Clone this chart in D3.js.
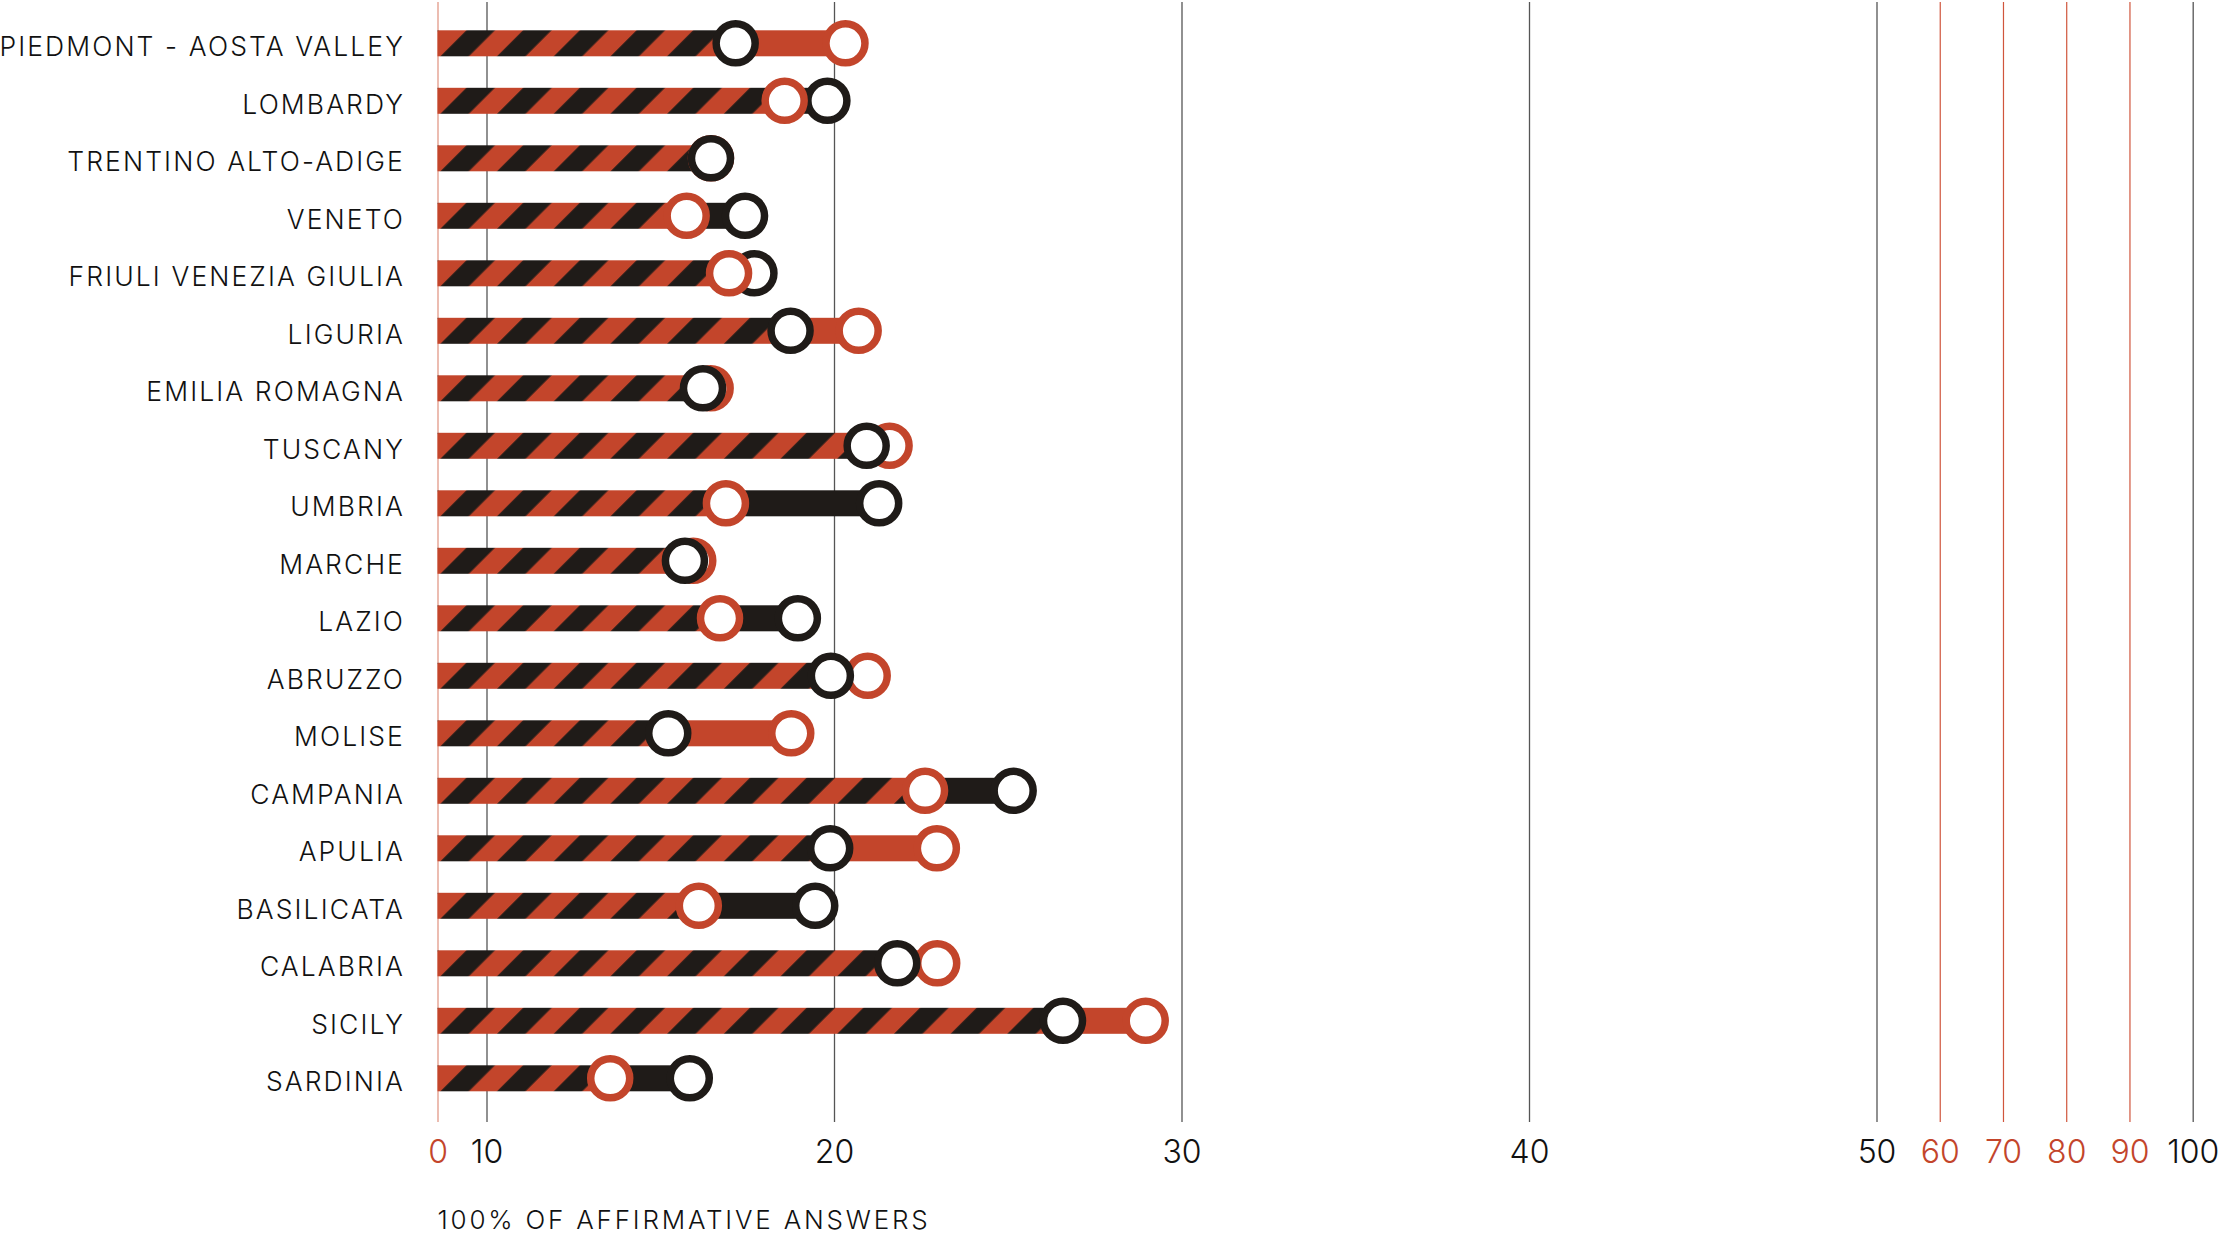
<!DOCTYPE html>
<html>
<head>
<meta charset="utf-8">
<script src="https://cdn.jsdelivr.net/npm/d3@7"></script>
<style>
  html, body { margin: 0; padding: 0; background: #ffffff; }
  svg { display: block; }
  text { font-family: Inter, "Noto Sans", sans-serif; font-weight: 300; }
</style>
</head>
<body>
<svg id="chart" width="2219" height="1236"></svg>
<script>
// ---- data ----
const regions = [
  "PIEDMONT - AOSTA VALLEY", "LOMBARDY", "TRENTINO ALTO-ADIGE", "VENETO",
  "FRIULI VENEZIA GIULIA", "LIGURIA", "EMILIA ROMAGNA", "TUSCANY", "UMBRIA",
  "MARCHE", "LAZIO", "ABRUZZO", "MOLISE", "CAMPANIA", "APULIA", "BASILICATA",
  "CALABRIA", "SICILY", "SARDINIA"
];
const redValues = [20.33, 18.58, 16.46, 15.76, 16.98, 20.71, 16.45, 21.60, 16.89,
  15.95, 16.72, 20.97, 18.77, 22.62, 22.96, 16.11, 22.97, 28.97, 13.56];
const blackValues = [17.17, 19.81, 16.46, 17.44, 17.71, 18.75, 16.23, 20.94, 21.30,
  15.71, 18.96, 19.91, 15.23, 25.17, 19.89, 19.46, 21.82, 26.59, 15.85];
const tickValues = [0, 10, 20, 30, 40, 50, 60, 70, 80, 90, 100];
const tickLabels = ["0", "10", "20", "30", "40", "50", "60", "70", "80", "90", "100"];
const axisTitle = "100% OF AFFIRMATIVE ANSWERS";

// ---- styles ----
const RED = "#c3452b";
const BLACK = "#1f1b18";

const svg = d3.select("#chart");
const defs = svg.append("defs");

// piecewise (broken) x scale
const x = d3.scaleLinear()
  .domain([0, 10, 50, 100])
  .range([437.5, 486.5, 1876.5, 2192.7]);

const y = d3.scalePoint()
  .domain(regions)
  .range([43.3, 43.3 + 57.5 * (regions.length - 1)]);

const barH = 26;
const circleR = 19.5;
const circleW = 7.5;
const gridTop = 2;
const gridBottom = 1122;

const isRedTick = v => v === 0 || (v > 50 && v < 100);

// ---- gridlines + tick labels via axis ----
const axis = d3.axisBottom(x)
  .tickValues(tickValues)
  .tickFormat((d, i) => tickLabels[i])
  .tickSize(-(gridBottom - gridTop));

const ax = svg.append("g")
  .attr("transform", `translate(0,${gridBottom})`)
  .call(axis);
ax.select(".domain").remove();
ax.selectAll(".tick line")
  .attr("stroke", d => d === 0 ? "#e0907d" : (isRedTick(d) ? "#d0553c" : "#555"))
  .attr("stroke-width", d => isRedTick(d) ? 1.2 : 1.3);
ax.selectAll(".tick text")
  .attr("y", 41)
  .attr("dy", 0)
  .attr("font-size", 32)
  .attr("font-family", "Inter, sans-serif")
  .attr("font-weight", 300)
  .attr("fill", d => isRedTick(d) ? RED : "#111");

// ---- data rows ----
const rows = regions.map((r, i) => ({
  region: r, i,
  red: redValues[i], black: blackValues[i],
  lo: Math.min(redValues[i], blackValues[i]),
  hi: Math.max(redValues[i], blackValues[i]),
  hiColor: redValues[i] > blackValues[i] ? RED : BLACK
}));

// per-row diagonal stripe patterns anchored at each bar's start
const P = 56.7;               // horizontal stripe period
const w = P / Math.SQRT2;     // perpendicular period
rows.forEach(d => {
  const cy = y(d.region);
  const pat = defs.append("pattern")
    .attr("id", "stripe" + d.i)
    .attr("patternUnits", "userSpaceOnUse")
    .attr("width", w)
    .attr("height", 20)
    .attr("patternTransform", `translate(${x(0)},${cy + barH / 2}) rotate(45)`);
  pat.append("rect").attr("width", w).attr("height", 20).attr("fill", RED);
  pat.append("rect").attr("x", 2.1).attr("width", w / 2).attr("height", 20).attr("fill", BLACK);
});

const gRows = svg.append("g");

// solid segment between the two values
gRows.selectAll("rect.solid")
  .data(rows)
  .join("rect")
  .attr("class", "solid")
  .attr("x", d => x(d.lo))
  .attr("y", d => y(d.region) - barH / 2)
  .attr("width", d => x(d.hi) - x(d.lo))
  .attr("height", barH)
  .attr("fill", d => d.hiColor);

// striped segment from 0 to the lower value
gRows.selectAll("rect.striped")
  .data(rows)
  .join("rect")
  .attr("class", "striped")
  .attr("x", x(0))
  .attr("y", d => y(d.region) - barH / 2)
  .attr("width", d => x(d.lo) - x(0))
  .attr("height", barH)
  .attr("fill", d => `url(#stripe${d.i})`);

// circles: larger value drawn first, smaller on top (black on top if equal)
const dots = [];
rows.forEach(d => {
  const pr = { region: d.region, v: d.red, color: RED };
  const pb = { region: d.region, v: d.black, color: BLACK };
  if (d.red > d.black) { dots.push(pr, pb); }
  else if (d.red < d.black) { dots.push(pb, pr); }
  else { dots.push(pr, pb); }
});
gRows.selectAll("circle")
  .data(dots)
  .join("circle")
  .attr("cx", d => x(d.v))
  .attr("cy", d => y(d.region))
  .attr("r", circleR)
  .attr("fill", "#fff")
  .attr("stroke", d => d.color)
  .attr("stroke-width", circleW);

// category labels
svg.append("g").selectAll("text")
  .data(regions)
  .join("text")
  .attr("x", 405)
  .attr("y", d => y(d) + 13)
  .attr("text-anchor", "end")
  .attr("font-size", 26.5)
  .attr("letter-spacing", 2.1)
  .attr("fill", "#111")
  .text(d => d);

// axis title
svg.append("text")
  .attr("x", x(0))
  .attr("y", 1229)
  .attr("font-size", 26)
  .attr("letter-spacing", 2.8)
  .attr("fill", "#111")
  .text(axisTitle);
</script>
</body>
</html>
